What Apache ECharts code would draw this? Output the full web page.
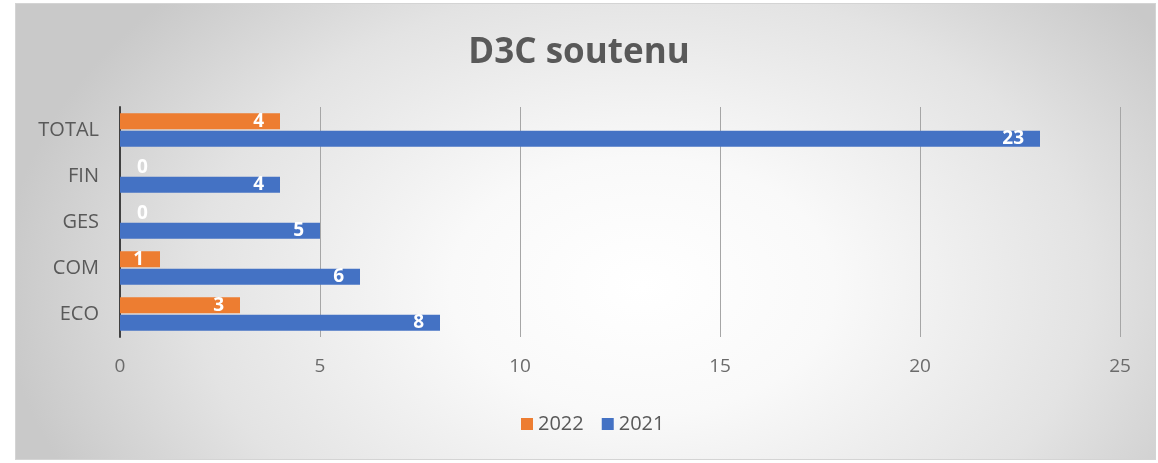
<!DOCTYPE html>
<html>
<head>
<meta charset="utf-8">
<script src="https://cdn.jsdelivr.net/npm/echarts@6/dist/echarts.min.js"></script>
<style>
html,body{margin:0;padding:0;background:#fff;width:1158px;height:463px;overflow:hidden;}
#frame{position:absolute;left:15px;top:3px;width:1139px;height:455px;border:1px solid #d4d4d4;
background:radial-gradient(ellipse 640px 430px at 55% 62%, #ffffff 0%, #f9f9f9 30%, #e3e3e3 70%, #c9c9c9 100%);}
#chart{position:absolute;left:0;top:0;width:1158px;height:463px;}
</style>
</head>
<body>
<div id="frame"></div>
<div id="chart"></div>
<script>
const categories = ['ECO', 'COM', 'GES', 'FIN', 'TOTAL'];
const values2022 = [3, 1, 0, 0, 4];
const values2021 = [8, 6, 5, 4, 23];
const xTicks = [0, 5, 10, 15, 20, 25];
const titleText = 'D3C soutenu';

const font = '"Open Sans", "Noto Sans", sans-serif';
function mkData(arr) {
  return arr.map(v => v === 0
    ? { value: v, label: { position: 'right', distance: 17 } }
    : v);
}
const labelCfg = {
  show: true, position: 'insideRight', distance: 16,
  color: '#ffffff', fontWeight: 'bold', fontSize: 19, fontFamily: font
};
const chart = echarts.init(document.getElementById('chart'), null, { renderer: 'canvas' });
chart.setOption({
  backgroundColor: 'transparent',
  animation: false,
  title: {
    text: titleText, left: 'center', top: 31,
    textStyle: { fontSize: 35, fontWeight: 'bold', color: '#595959', fontFamily: font }
  },
  legend: {
    data: ['2022', '2021'], left: 516, top: 409,
    icon: 'rect', itemWidth: 12, itemHeight: 12, itemGap: 18,
    textStyle: { fontSize: 20, color: '#595959', fontFamily: font }
  },
  grid: { left: 120, right: 38, top: 107, bottom: 126 },
  xAxis: {
    type: 'value', min: xTicks[0], max: xTicks[xTicks.length - 1], interval: 5,
    axisLine: { show: false }, axisTick: { show: false },
    axisLabel: { fontSize: 19, color: '#6b6b6b', fontFamily: font, margin: 20 },
    splitLine: { show: true, lineStyle: { color: '#a6a6a6', width: 1 } }
  },
  yAxis: {
    type: 'category', data: categories,
    axisLine: { show: true, lineStyle: { color: '#404040', width: 2 } },
    axisTick: { show: false },
    axisLabel: { fontSize: 20, color: '#595959', fontFamily: font, margin: 21 }
  },
  series: [
    { name: '2022', type: 'bar', data: mkData(values2022), barWidth: 16, barGap: '10%',
      itemStyle: { color: '#ED7D31' }, label: labelCfg },
    { name: '2021', type: 'bar', data: mkData(values2021), barWidth: 16, barGap: '10%',
      itemStyle: { color: '#4472C4' }, label: labelCfg }
  ]
});
</script>
</body>
</html>
